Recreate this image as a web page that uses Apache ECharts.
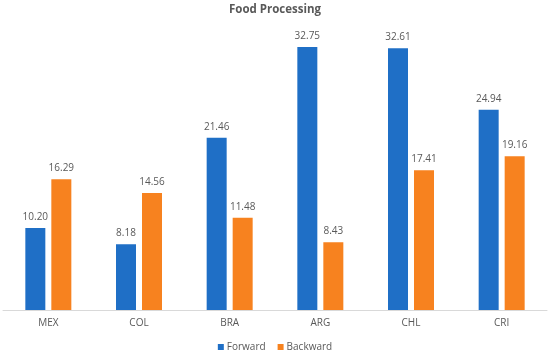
<!DOCTYPE html>
<html><head><meta charset="utf-8">
<script src="https://cdn.jsdelivr.net/npm/echarts@6/dist/echarts.min.js"></script>
<style>html,body{margin:0;padding:0;background:#fff}#c{width:550px;height:353px}</style>
</head><body><div id="c"></div>
<script>
const categories = ['MEX','COL','BRA','ARG','CHL','CRI'];
const forward = [10.20, 8.18, 21.46, 32.75, 32.61, 24.94];
const backward = [16.29, 14.56, 11.48, 8.43, 17.41, 19.16];
const font = 'Open Sans';
const chart = echarts.init(document.getElementById('c'));
const label = {show:true, position:'top', distance:6, color:'#595959', fontSize:10, fontFamily:font, formatter: p => p.value.toFixed(2)};
chart.setOption({
  animation:false,
  title:{text:'Food Processing', left:'center', top:-1, textStyle:{fontFamily:font, fontSize:11.5, fontWeight:'bold', color:'#595959'}},
  grid:{left:3, right:3, top:29, bottom:43},
  legend:{bottom:-4, left:'center', itemWidth:6, itemHeight:6, itemGap:12, icon:'rect', textStyle:{fontFamily:font, fontSize:10, color:'#595959', padding:[0,0,0,-2]}, data:['Forward','Backward']},
  xAxis:{type:'category', data:categories, axisTick:{show:false}, axisLine:{lineStyle:{color:'#d9d9d9'}}, axisLabel:{color:'#595959', fontFamily:font, fontSize:10, margin:8}},
  yAxis:{type:'value', min:0, max:35, interval:5, show:false, splitLine:{show:false}},
  series:[
    {name:'Forward', type:'bar', data:forward, barWidth:20, barGap:'30%', itemStyle:{color:'#1f6fc6'}, label},
    {name:'Backward', type:'bar', data:backward, barWidth:20, itemStyle:{color:'#f7821f'}, label}
  ]
});
</script></body></html>
